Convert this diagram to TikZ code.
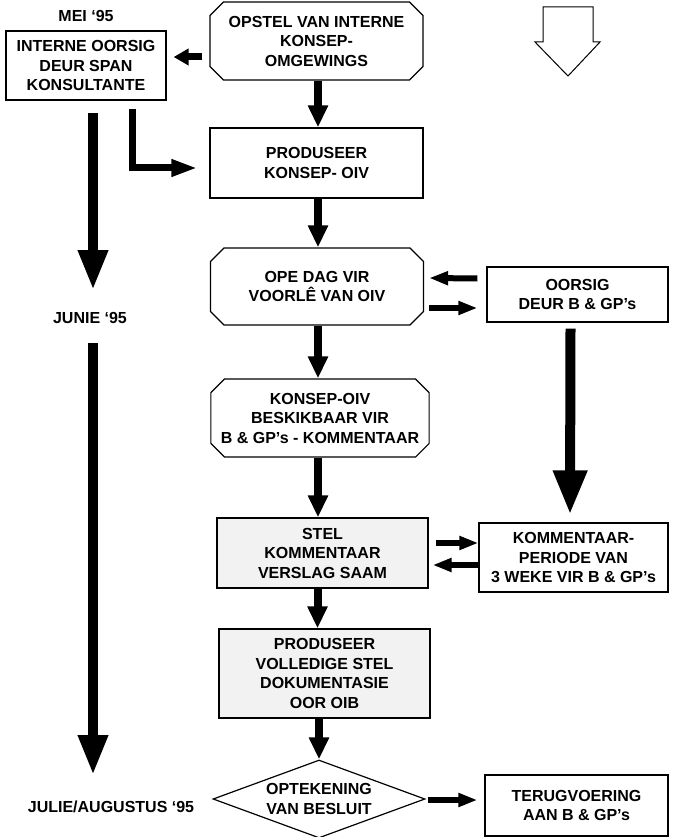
\documentclass[tikz,border=0pt]{standalone}
\usepackage{fontspec}
\setmainfont{Liberation Sans}
\usetikzlibrary{shapes.misc,shapes.geometric,arrows.meta,calc}
\begin{document}
\begin{tikzpicture}[x=1pt,y=-1pt,
  font=\fontsize{16}{19.5}\selectfont\bfseries,
  box/.style={draw, line width=1.2pt, align=center, inner sep=0pt},
  cbox/.style={box, chamfered rectangle, chamfered rectangle xsep=10pt, chamfered rectangle angle=45},
  lbl/.style={align=center, inner sep=0pt},
  harrow/.style={line width=7pt, -{Triangle[length=15pt,width=16pt]}},
  larrow/.style={line width=7pt, -{Triangle[length=26pt,width=16pt]}},
  sarrow/.style={line width=6pt, -{Triangle[length=19pt,width=13pt]}},
  varrow/.style={line width=8pt, -{Triangle[length=22pt,width=19pt]}},
  bigarrow/.style={line width=9.5pt, -{Triangle[length=40pt,width=28pt]}},
  rarrow/.style={line width=10pt, -{Triangle[length=44pt,width=32pt]}}]
\useasboundingbox (0,0) rectangle (672,837);

% nodes
\node[lbl] (mei) at (86,16) {MEI ‘95};
\node[box, minimum width=160pt, minimum height=69pt] (intern) at (86,65.5) {INTERNE OORSIG\\DEUR SPAN\\KONSULTANTE};
\node[cbox, minimum width=213pt, minimum height=78pt] (top) at (316.5,41) {OPSTEL VAN INTERNE\\KONSEP-\\OMGEWINGS};
\node[box, minimum width=213pt, minimum height=70pt] (prod1) at (316.5,163) {PRODUSEER\\KONSEP- OIV};
\node[cbox, minimum width=213pt, minimum height=77pt] (ope) at (317,286.5) {OPE DAG VIR\\VOORLÊ VAN OIV};
\node[box, minimum width=181pt, minimum height=55pt] (oorsig) at (577.5,294.5) {OORSIG\\DEUR B \& GP’s};
\node[cbox, minimum width=216pt, minimum height=78pt] (konsep) at (320,418) {KONSEP-OIV\\BESKIKBAAR VIR\\B \& GP’s - KOMMENTAAR};
\node[box, fill=black!5, minimum width=211pt, minimum height=70pt] (stel) at (322.5,553) {STEL\\KOMMENTAAR\\VERSLAG SAAM};
\node[box, minimum width=189pt, minimum height=69pt] (komm) at (573.5,557.5) {KOMMENTAAR-\\PERIODE VAN\\3 WEKE VIR B \& GP’s};
\node[box, fill=black!5, minimum width=211pt, minimum height=89pt] (prod2) at (324.5,673.5) {PRODUSEER\\VOLLEDIGE STEL\\DOKUMENTASIE\\OOR OIB};
\node[diamond, draw, line width=1.2pt, aspect=2.7, inner sep=0pt, minimum width=212pt, minimum height=78pt, align=center] (dia) at (319,799) {OPTEKENING\\VAN BESLUIT};
\node[box, minimum width=183pt, minimum height=61pt] (terug) at (576.5,805.5) {TERUGVOERING\\AAN B \& GP’s};
\node[lbl] (junie) at (90,318) {JUNIE ‘95};
\node[lbl] (julie) at (111,807) {JULIE/AUGUSTUS ‘95};

% timeline arrows
\coordinate (l1s) at (93,113);
\coordinate (l1e) at (93,290);
\coordinate (l2s) at (93,343);
\coordinate (l2e) at (93,775);
\draw[bigarrow] (l1s) -- (l1e);
\draw[bigarrow] (l2s) -- (l2e);

% connectors
\draw[harrow] ([xshift=-7pt,yshift=-16pt]top.west) -- ([xshift=7pt,yshift=8.5pt]intern.east);
\draw[varrow] ([xshift=1.5pt]top.south) -- ([xshift=1.5pt]prod1.north);
\draw[larrow] ([xshift=46pt,yshift=-8pt]intern.south) |- ([xshift=-12pt,yshift=-5pt]prod1.west);
\draw[varrow] ([xshift=1.5pt]prod1.south) -- ([xshift=1.5pt]prod1.south |- ope.north);
\draw[sarrow] ([xshift=-9pt,yshift=16pt]oorsig.west) -- ([xshift=5pt,yshift=8.5pt]ope.east);
\draw[sarrow] ([xshift=5pt,yshift=-21.5pt]ope.east) -- ([xshift=-9pt,yshift=-13.5pt]oorsig.west);
\draw[varrow] ([xshift=-2pt]konsep.north |- ope.south) -- ([xshift=-2pt]konsep.north);
\draw[rarrow] ([xshift=-7pt,yshift=-6pt]oorsig.south) -- ([xshift=-3.5pt,yshift=8pt]komm.north);
\draw[varrow] ([xshift=-2pt]konsep.south) -- ([xshift=-2pt]konsep.south |- stel.north);
\draw[sarrow] ([xshift=7pt,yshift=10pt]stel.east) -- ([yshift=14.5pt]komm.west);
\draw[sarrow] ([yshift=-7.5pt]komm.west) -- ([xshift=4pt,yshift=-12pt]stel.east);
\draw[varrow] ([xshift=-5pt]stel.south) -- ([xshift=-5pt]stel.south |- prod2.north);
\draw[varrow] ([xshift=-5.5pt]prod2.south) -- ([xshift=-5.5pt]prod2.south |- dia.north);
\draw[sarrow] ([xshift=2pt,yshift=-1pt]dia.east) -- ([xshift=-7pt,yshift=5.5pt]terug.west);

% hollow arrow (top right)
\draw[line width=1pt, fill=white] (543,7) -- (593,7) -- (593,42) -- (600,42) -- (568,76) -- (535,42) -- (543,42) -- cycle;
\end{tikzpicture}
\end{document}
